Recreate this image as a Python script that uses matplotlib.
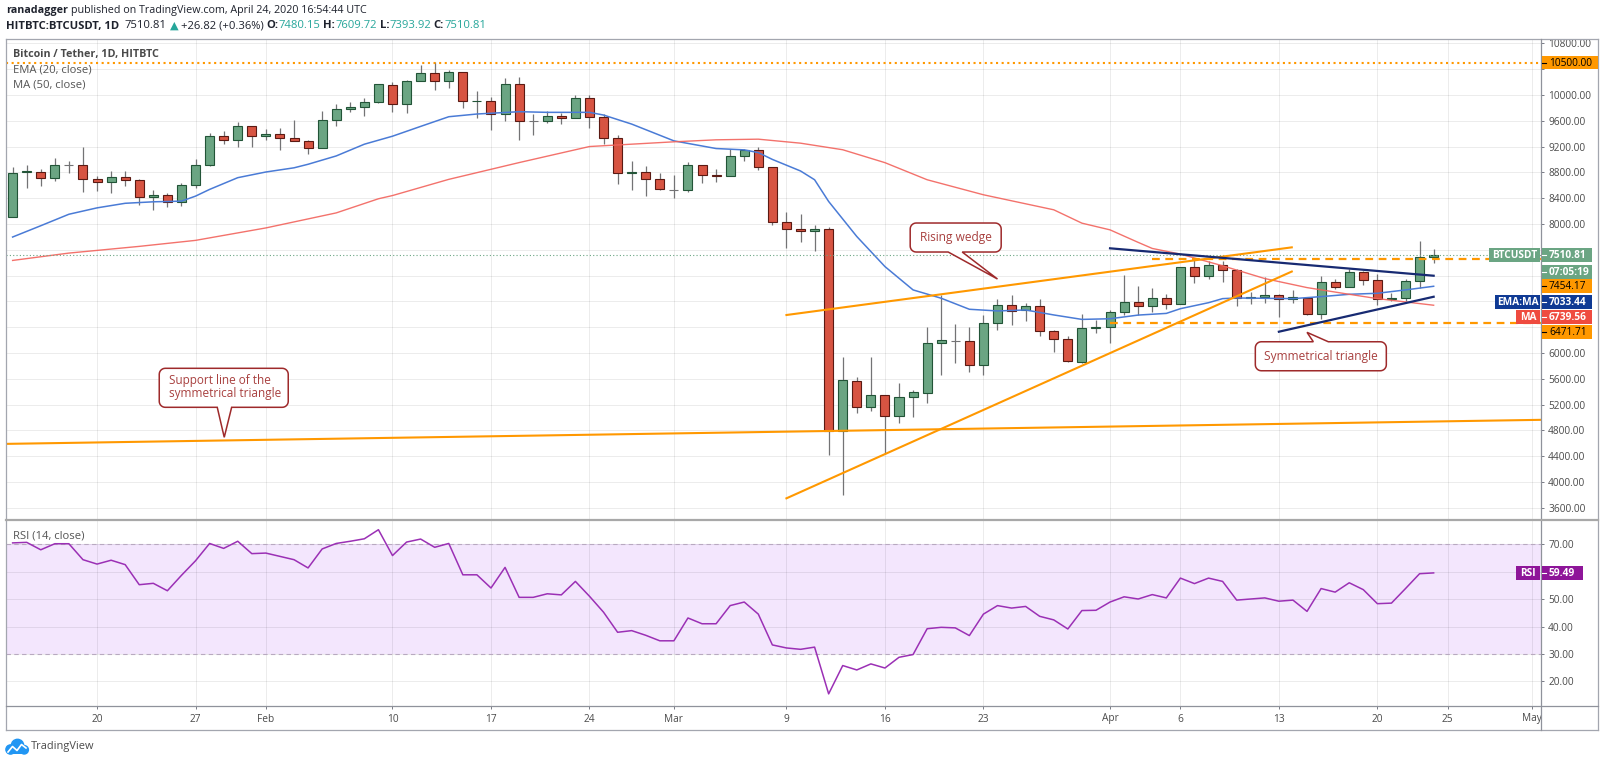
import numpy as np
import pandas as pd
import matplotlib
matplotlib.use('Agg')
import matplotlib.pyplot as plt
import matplotlib.dates as mdates
from matplotlib.patches import Rectangle, PathPatch, Circle
from matplotlib.path import Path
from matplotlib.lines import Line2D
from matplotlib.ticker import FuncFormatter
from matplotlib import transforms

plt.rcParams['font.family'] = ['Open Sans', 'DejaVu Sans']

# ---------------- data ----------------
dates = pd.date_range('2020-01-14', '2020-04-24', freq='D')

opens = [8109, 8800, 8810, 8717, 8907, 8909, 8701, 8649, 8732, 8675,
         8416, 8441, 8338, 8608, 8909, 9366, 9304, 9512, 9356, 9387,
         9330, 9288, 9184, 9610, 9777, 9818, 9886, 10160, 9854, 10223,
         10338, 10223, 10353, 9901, 9905, 9709, 10166, 9600, 9600, 9678,
         9647, 9948, 9662, 9325, 8795, 8810, 8691, 8530, 8525, 8914,
         8758, 8743, 9054, 9143, 8883, 8036, 7919, 7893, 7919, 4788,
         5559, 5166, 5347, 5021, 5310, 5383, 6159, 6190, 6180, 5807,
         6459, 6739, 6661, 6723, 6346, 6221, 5864, 6382, 6408, 6640,
         6790, 6733, 6857, 6764, 7335, 7195, 7361, 7288, 6857, 6873,
         6904, 6831, 6857, 6608, 7101, 7023, 7257, 7127, 6831, 6847,
         7122, 7480.15]
highs = [8888, 8909, 8857, 9028, 8976, 9200, 8743, 8820, 8820, 8690,
         8525, 8473, 8629, 9002, 9403, 9444, 9574, 9520, 9470, 9480,
         9610, 9295, 9756, 9860, 9886, 9948, 10170, 10197, 10230, 10468,
         10509, 10380, 10360, 10057, 9963, 10265, 10275, 9704, 9756, 9720,
         10000, 10000, 9704, 9376, 8976, 8899, 8795, 8753, 8961, 8920,
         8847, 9169, 9158, 9200, 8890, 8183, 8152, 7986, 7960, 5932,
         5631, 5932, 5350, 5538, 5424, 6397, 6899, 6449, 6397, 6589,
         6832, 6894, 6780, 6842, 6350, 6263, 6604, 6511, 6666, 7215,
         7039, 7000, 6909, 7340, 7465, 7429, 7429, 7299, 6945, 7184,
         6910, 6970, 6873, 7195, 7143, 7299, 7273, 7231, 6930, 7153,
         7740, 7609.72]
lows = [8100, 8561, 8587, 8665, 8795, 8493, 8509, 8483, 8587, 8301,
        8223, 8265, 8275, 8561, 8900, 9236, 9200, 9200, 9304, 9148,
        9280, 9090, 9180, 9522, 9730, 9668, 9880, 9740, 9720, 10215,
        10083, 10104, 9797, 9636, 9460, 9600, 9304, 9382, 9564, 9548,
        9640, 9480, 9236, 8613, 8519, 8431, 8530, 8405, 8493, 8639,
        8649, 8738, 8976, 8836, 7990, 7624, 7722, 7588, 4415, 3794,
        5062, 5098, 4431, 4907, 5000, 5228, 5657, 5849, 5709, 5657,
        6356, 6428, 6501, 6263, 6020, 5864, 5849, 6304, 6149, 6590,
        6593, 6630, 6675, 6760, 7080, 7153, 7101, 6727, 6753, 6779,
        6561, 6780, 6592, 6519, 6987, 7023, 7049, 6738, 6805, 6805,
        7013, 7393.92]
closes = [8795, 8821, 8717, 8909, 8907, 8701, 8649, 8732, 8675, 8416,
          8441, 8338, 8608, 8909, 9366, 9304, 9512, 9356, 9387, 9330,
          9288, 9184, 9610, 9777, 9818, 9896, 10166, 9854, 10223, 10338,
          10223, 10353, 9901, 9905, 9709, 10166, 9600, 9600, 9678, 9647,
          9948, 9662, 9325, 8795, 8810, 8691, 8535, 8530, 8914, 8758,
          8743, 9054, 9143, 8883, 8036, 7922, 7883, 7919, 4788, 5580,
          5166, 5347, 5021, 5310, 5393, 6159, 6201, 6190, 5807, 6459,
          6739, 6656, 6723, 6346, 6221, 5868, 6382, 6408, 6640, 6790,
          6733, 6852, 6764, 7335, 7195, 7361, 7288, 6857, 6873, 6904,
          6831, 6873, 6608, 7101, 7023, 7257, 7127, 6831, 6845, 7122,
          7483.99, 7510.81]

rsi_values = [70.4, 70.6, 67.9, 70.1, 70.1, 64.3, 62.7, 64.1, 62.5, 55.2,
              55.7, 53.0, 58.6, 63.9, 70.2, 68.4, 71.0, 66.5, 66.7, 65.5,
              64.3, 61.3, 68.2, 70.2, 71.0, 71.9, 75.2, 65.8, 70.7, 71.8,
              68.8, 70.2, 58.8, 58.8, 54.0, 61.5, 50.6, 50.6, 51.9, 51.5,
              56.4, 51.0, 45.2, 37.9, 38.5, 36.8, 34.8, 34.8, 43.1, 41.0,
              41.0, 47.6, 48.9, 44.5, 33.3, 32.2, 31.7, 32.5, 15.5, 25.8,
              24.2, 26.4, 24.9, 28.8, 29.8, 39.2, 39.7, 39.5, 36.7, 44.5,
              47.6, 46.7, 47.3, 43.7, 42.4, 39.1, 45.8, 45.9, 48.9, 50.8,
              50.0, 51.6, 50.4, 57.6, 55.6, 57.6, 56.4, 49.6, 50.0, 50.4,
              49.2, 49.6, 45.5, 53.8, 52.5, 55.9, 53.4, 48.3, 48.5, 53.8,
              59.2, 59.49]

ema_dates = ['2020-01-14', '2020-01-16', '2020-01-18', '2020-01-20', '2020-01-22',
             '2020-01-24', '2020-01-26', '2020-01-27', '2020-01-28', '2020-01-30',
             '2020-02-01', '2020-02-03', '2020-02-04', '2020-02-06', '2020-02-08',
             '2020-02-10', '2020-02-12', '2020-02-14', '2020-02-16', '2020-02-19',
             '2020-02-21', '2020-02-24', '2020-02-25', '2020-02-27', '2020-03-01',
             '2020-03-04', '2020-03-06', '2020-03-07', '2020-03-08', '2020-03-10',
             '2020-03-11', '2020-03-12', '2020-03-14', '2020-03-16', '2020-03-18',
             '2020-03-20', '2020-03-22', '2020-03-24', '2020-03-26', '2020-03-28',
             '2020-03-30', '2020-04-01', '2020-04-03', '2020-04-05', '2020-04-06',
             '2020-04-08', '2020-04-09', '2020-04-10', '2020-04-12', '2020-04-14',
             '2020-04-16', '2020-04-18', '2020-04-20', '2020-04-22', '2020-04-24']
ema_values = [7797, 7972, 8150, 8249, 8320, 8343, 8353, 8431, 8535, 8717,
              8805, 8870, 8925, 9054, 9236, 9360, 9512, 9662, 9704, 9740,
              9730, 9730, 9688, 9548, 9288, 9169, 9148, 9106, 9000, 8821,
              8685, 8348, 7805, 7339, 6977, 6848, 6677, 6651, 6666, 6589,
              6520, 6530, 6587, 6613, 6686, 6779, 6842, 6852, 6847, 6842,
              6873, 6909, 6925, 6977, 7033.44]

ma_dates = ['2020-01-14', '2020-01-18', '2020-01-23', '2020-01-27', '2020-02-01',
            '2020-02-06', '2020-02-09', '2020-02-10', '2020-02-14', '2020-02-19',
            '2020-02-24', '2020-03-01', '2020-03-04', '2020-03-07', '2020-03-10',
            '2020-03-13', '2020-03-16', '2020-03-19', '2020-03-23', '2020-03-28',
            '2020-03-30', '2020-04-01', '2020-04-03', '2020-04-04', '2020-04-06',
            '2020-04-09', '2020-04-12', '2020-04-15', '2020-04-18', '2020-04-20',
            '2020-04-24']
ma_values = [7434, 7548, 7652, 7745, 7938, 8171, 8390, 8440, 8691, 8951,
             9200, 9273, 9304, 9314, 9252, 9150, 8950, 8685, 8452, 8219,
             8012, 7908, 7714, 7620, 7532, 7351, 7153, 7013, 6909, 6842,
             6739.56]

# drawn trend lines (date, price end points)
support_dates = ['2020-01-13 12:00', '2020-05-01 15:00']
support_prices = [4590, 4963]
wedge_upper_dates = ['2020-03-09 00:00', '2020-04-13 22:00']
wedge_upper_prices = [6588, 7637]
wedge_lower_dates = ['2020-03-09 00:00', '2020-04-13 22:00']
wedge_lower_prices = [3746, 7262]
tri_upper_dates = ['2020-04-01', '2020-04-24']
tri_upper_prices = [7622, 7197]
tri_lower_dates = ['2020-04-13', '2020-04-24']
tri_lower_prices = [6329, 6871]

resistance_level = 10500.00
level_high = 7454.17
level_high_start = '2020-04-04'
level_low = 6471.71
level_low_start = '2020-04-01'
countdown = '07:05:19'

tick_dates = ['2020-01-20', '2020-01-27', '2020-02-01', '2020-02-10', '2020-02-17',
              '2020-02-24', '2020-03-01', '2020-03-09', '2020-03-16', '2020-03-23',
              '2020-04-01', '2020-04-06', '2020-04-13', '2020-04-20', '2020-04-25',
              '2020-05-01']
tick_labels = ['20', '27', 'Feb', '10', '17', '24', 'Mar', '9', '16', '23',
               'Apr', '6', '13', '20', '25', 'May']
price_ticks = list(range(3600, 10801, 400))
rsi_ticks = [20, 30, 40, 50, 60, 70]

# ---------------- helpers ----------------
def dnum(seq):
    return mdates.date2num(pd.to_datetime(list(seq), format='mixed').to_numpy())

W, H = 1600, 763
fig = plt.figure(figsize=(W / 100, H / 100), dpi=100)
fig.patch.set_facecolor('white')
tp = transforms.Affine2D().scale(1, -1).translate(0, H)   # pixel coords, y down
renderer = fig.canvas.get_renderer()


def axes_px(l, t, r, b):
    return fig.add_axes([l / W, 1 - b / H, (r - l) / W, (b - t) / H])


ax = axes_px(6, 39, 1541, 520)
rx = axes_px(6, 520, 1541, 706)

GREEN, GREEN_E = '#6ba583', '#225437'
RED, RED_E = '#d75442', '#5b1a13'
WICK = '#737375'
ORANGE = '#ff9800'
NAVY = '#172a72'
LBL = '#4a4a4a'

base = dnum(['2020-01-20'])[0]
XL = (base - 6.47, base + 102.63)
xs = mdates.date2num(dates.to_numpy())
o = np.array(opens, float); hi = np.array(highs, float)
lo = np.array(lows, float); c = np.array(closes, float)

for a in (ax, rx):
    for s in a.spines.values():
        s.set_visible(False)
    a.set_facecolor('none')
    a.set_xticks(dnum(tick_dates))
    a.grid(True, color='black', alpha=0.075, lw=0.75)
    a.set_axisbelow(True)
    a.yaxis.tick_right()
    a.tick_params(axis='y', length=2.2, width=0.7, color='#787b86', pad=3,
                  labelsize=7.3, labelcolor=LBL)

ax.tick_params(axis='x', length=0, labelbottom=False)
ax.set_yticks(price_ticks)

# candles
ax.vlines(xs, lo, hi, color=WICK, lw=0.9, zorder=3)
bb = np.minimum(o, c); bh = np.abs(c - o)
for mask, fc, ec in [(c > o, GREEN, GREEN_E), (c < o, RED, RED_E), (c == o, WICK, WICK)]:
    ax.bar(xs[mask], bh[mask], bottom=bb[mask], width=0.64, color=fc,
           edgecolor=ec, linewidth=0.8, zorder=4)

# indicators
ax.plot(dnum(ema_dates), ema_values, color='#4a7bd6', lw=1.1, zorder=5)
ax.plot(dnum(ma_dates), ma_values, color='#f2635c', lw=1.0, alpha=0.9, zorder=5)

# horizontal levels
ax.axhline(resistance_level, color=ORANGE, lw=1.5, ls=(0, (1, 1.7)), zorder=6)
ax.axhline(c[-1], color=GREEN, lw=0.8, ls=(0, (1, 2)), zorder=6)
ax.hlines(level_high, dnum([level_high_start])[0], XL[1], color=ORANGE, lw=1.6,
          ls=(0, (3.5, 2.5)), zorder=6)
ax.hlines(level_low, dnum([level_low_start])[0], XL[1], color=ORANGE, lw=1.6,
          ls=(0, (3.5, 2.5)), zorder=6)

# trend lines
ax.plot(dnum(support_dates), support_prices, color=ORANGE, lw=1.5, zorder=6)
ax.plot(dnum(wedge_upper_dates), wedge_upper_prices, color=ORANGE, lw=1.5, zorder=6)
ax.plot(dnum(wedge_lower_dates), wedge_lower_prices, color=ORANGE, lw=1.5, zorder=6)
ax.plot(dnum(tri_upper_dates), tri_upper_prices, color=NAVY, lw=1.6, zorder=6)
ax.plot(dnum(tri_lower_dates), tri_lower_prices, color=NAVY, lw=1.6, zorder=6)

ax.set_xlim(*XL)
ax.set_ylim(3410, 10867)

# RSI pane
rx.axhspan(30, 70, color='#f3e6fd', lw=0, zorder=0.2)
rx.axhline(70, color='#b8a9c0', lw=0.8, ls=(0, (4, 3)), zorder=1)
rx.axhline(30, color='#b8a9c0', lw=0.8, ls=(0, (4, 3)), zorder=1)
rx.plot(xs, rsi_values, color='#9b30b5', lw=1.1, zorder=5)
rx.set_yticks(rsi_ticks)
rx.set_xticklabels(tick_labels)
rx.tick_params(axis='x', length=2.2, width=0.7, color='#787b86', pad=3.2,
               labelsize=7.3, labelcolor=LBL)
rx.set_xlim(*XL)
rx.set_ylim(11.09, 78.73)


def py(a, v):
    return H - a.transData.transform((XL[0], v))[1]


# ---------------- frame ----------------
def pline(x0, y0, x1, y1, color='#a3a6af', lw=0.9, z=40):
    fig.add_artist(Line2D([x0, x1], [y0, y1], transform=tp, color=color, lw=lw, zorder=z))


pline(6, 39, 1598, 39)
pline(6, 39, 6, 730)
pline(1598, 39, 1598, 730)
pline(6, 730, 1598, 730)
pline(1541, 39, 1541, 730, color='#8f929b')
pline(6, 520, 1598, 520, color='#a8a8a8', lw=1.6)
pline(6, 706, 1598, 706, color='#8f929b')


# ---------------- price-scale labels ----------------
def box(x0, x1, yc, h, fc, z=45):
    fig.add_artist(Rectangle((x0, yc - h / 2), x1 - x0, h, transform=tp,
                             facecolor=fc, edgecolor='none', zorder=z))


def vlabel(yc, text, fc, tc, x1=1592, bold=False, h=14):
    box(1542, x1, yc, h, fc)
    fig.add_artist(Line2D([1542, 1546], [yc, yc], transform=tp, color=tc, lw=0.8, zorder=46))
    fig.text(1549, yc + 0.5, text, transform=tp, fontsize=7.3, color=tc,
             fontweight='bold' if bold else 'normal', ha='left', va='center', zorder=47)


def nlabel(yc, text, x0, fc, h=14):
    box(x0, 1540, yc, h, fc)
    fig.text((x0 + 1540) / 2, yc + 0.5, text, transform=tp, fontsize=7.3, color='white',
             fontweight='bold', ha='center', va='center', zorder=47)


y_res = py(ax, resistance_level)
y_last = py(ax, c[-1])
price_boxes = [y_res, y_last, y_last + 16.2, y_last + 30.6, y_last + 46.2,
               y_last + 61.6, y_last + 77]
y_rsi = py(rx, rsi_values[-1])


def make_fmt(a, boxes):
    def f(v, pos):
        if any(abs(py(a, v) - b) < 12 for b in boxes):
            return ''
        return '%.2f' % v
    return FuncFormatter(f)


ax.yaxis.set_major_formatter(make_fmt(ax, price_boxes))
rx.yaxis.set_major_formatter(make_fmt(rx, [y_rsi]))

vlabel(y_res, '%.2f' % resistance_level, ORANGE, 'black', x1=1598, h=13)
nlabel(y_last, 'BTCUSDT', 1489, GREEN)
vlabel(y_last, '%.2f' % c[-1], GREEN, 'white', bold=True)
vlabel(y_last + 16.2, countdown, GREEN, 'white', bold=True)
vlabel(y_last + 30.6, '%.2f' % level_high, ORANGE, 'black')
nlabel(y_last + 46.2, 'EMA:MA', 1495, '#0f3a94')
vlabel(y_last + 46.2, '%.2f' % ema_values[-1], '#0f3a94', 'white', bold=True)
nlabel(y_last + 61.6, 'MA', 1516, '#ef4b3f')
vlabel(y_last + 61.6, '%.2f' % ma_values[-1], '#ef4b3f', 'white', bold=True)
vlabel(y_last + 77, '%.2f' % level_low, ORANGE, 'black')

nlabel(y_rsi, 'RSI', 1516, '#8e1599')
vlabel(y_rsi, '%.2f' % rsi_values[-1], '#8e1599', 'white', x1=1583, bold=True)


# ---------------- texts ----------------
def text_w(s, fs, weight):
    t = fig.text(0, 0, '|' + s + '|', fontsize=fs, fontweight=weight)
    w1 = t.get_window_extent(renderer).width
    t.set_text('||')
    w0 = t.get_window_extent(renderer).width
    t.remove()
    return w1 - w0


def runs_text(x, y, runs, target_w, basefs=10, z=48):
    total = sum(text_w(s, basefs, wt) + sp * text_w(' ', basefs, 'normal') for s, cl, wt, sp in runs)
    fs = basefs * target_w / total
    sw = text_w(' ', fs, 'normal')
    cx = x
    for s, cl, wt, sp in runs:
        cx += sp * sw
        fig.text(cx, y, s, transform=tp, fontsize=fs, color=cl, fontweight=wt,
                 ha='left', va='center', zorder=z)
        cx += text_w(s, fs, wt)


DARK = '#1e222d'
TEAL = '#26a69a'
runs_text(6, 11, [('ranadagger', DARK, 'bold', 0),
                  ('published on TradingView.com, April 24, 2020 16:54:44 UTC', DARK, 'normal', 1)], 363)
chg = c[-1] - c[-2]
runs_text(6, 26, [('HITBTC:BTCUSDT, 1D', DARK, 'bold', 0),
                  ('%.2f' % c[-1], DARK, 'normal', 2),
                  ('\u25b2', TEAL, 'normal', 1),
                  ('%+.2f (%+.2f%%)' % (chg, chg / c[-2] * 100), DARK, 'normal', 1),
                  ('O:', DARK, 'bold', 1), ('%.2f' % o[-1], TEAL, 'normal', 0),
                  ('H:', DARK, 'bold', 1), ('%.2f' % hi[-1], TEAL, 'normal', 0),
                  ('L:', DARK, 'bold', 1), ('%.2f' % lo[-1], TEAL, 'normal', 0),
                  ('C:', DARK, 'bold', 1), ('%.2f' % c[-1], TEAL, 'normal', 0)], 477)
runs_text(13, 54, [('Bitcoin / Tether, 1D, HITBTC', '#4a4a4a', 'bold', 0)], 147)
runs_text(13, 70, [('EMA (20, close)', '#555555', 'normal', 0)], 78)
runs_text(13, 85, [('MA (50, close)', '#555555', 'normal', 0)], 72)
runs_text(13, 536, [('RSI (14, close)', '#555555', 'normal', 0)], 71)
runs_text(31, 747, [('TradingView', '#4a4a4a', 'normal', 0)], 63)

# TradingView logo (simple cloud)
for (cx_, cy_, r_) in [(10.5, 749.5, 4.6), (17.5, 745.5, 6.2), (24.2, 749.8, 4.2)]:
    fig.add_artist(Circle((cx_, cy_), r_, transform=tp, color='#2196f3', zorder=48))
box(10.5, 24.2, 751.5, 5, '#2196f3', z=48)
fig.add_artist(Line2D([8, 12.5, 17, 21.5, 26], [752, 746.5, 750.5, 744.5, 748],
                      transform=tp, color='white', lw=1.2, zorder=49))

# ---------------- callouts ----------------
CAL_E = '#9e2a2b'
CAL_T = '#a8403f'


def callout(tip_date, tip_price, bx, b0, b1, side, text, fs, left=False):
    tx = dnum([tip_date])[0]
    trans = transforms.Affine2D().scale(1, -1) + transforms.ScaledTranslation(tx, tip_price, ax.transData)
    x0, y0, x1, y1 = bx
    r = 6
    pts = []

    def arc(cx_, cy_, a0, a1):
        for a in np.linspace(a0, a1, 8):
            pts.append((cx_ + r * np.cos(a), cy_ + r * np.sin(a)))
    pts.append((x0 + r, y0))
    if side == 'top':
        pts += [(b0, y0), (0, 0), (b1, y0)]
    pts.append((x1 - r, y0))
    arc(x1 - r, y0 + r, -np.pi / 2, 0)
    pts.append((x1, y1 - r))
    arc(x1 - r, y1 - r, 0, np.pi / 2)
    if side == 'bottom':
        pts += [(b1, y1), (0, 0), (b0, y1)]
    pts.append((x0 + r, y1))
    arc(x0 + r, y1 - r, np.pi / 2, np.pi)
    pts.append((x0, y0 + r))
    arc(x0 + r, y0 + r, np.pi, 1.5 * np.pi)
    pts.append(pts[0])
    codes = [Path.MOVETO] + [Path.LINETO] * (len(pts) - 2) + [Path.CLOSEPOLY]
    ax.add_patch(PathPatch(Path(pts, codes), facecolor='white', edgecolor=CAL_E,
                           lw=1.1, transform=trans, zorder=9, clip_on=False))
    if left:
        ax.text(x0 + 9.5, (y0 + y1) / 2 - 1, text, transform=trans, ha='left', va='center',
                color=CAL_T, fontsize=fs, zorder=10, linespacing=1.0, clip_on=False)
    else:
        ax.text((x0 + x1) / 2, (y0 + y1) / 2, text, transform=trans, ha='center', va='center',
                color=CAL_T, fontsize=fs, zorder=10, clip_on=False)


callout('2020-03-24', 7146, (-87.3, -56, 3.7, -27), -49.3, -35.3, 'bottom', 'Rising wedge', 8.6)
callout('2020-04-15', 6319, (-51.7, 9.4, 79.3, 38.4), 6.3, 21.3, 'top', 'Symmetrical triangle', 8.6)
callout('2020-01-29 01:00', 4692, (-65, -69, 64, -30), -7, 7.4, 'bottom',
        'Support line of the\nsymmetrical triangle', 8.5, left=True)

ax.set_xlim(*XL)
ax.set_ylim(3410, 10867)

fig.savefig('out.png', dpi=100, facecolor='white')
